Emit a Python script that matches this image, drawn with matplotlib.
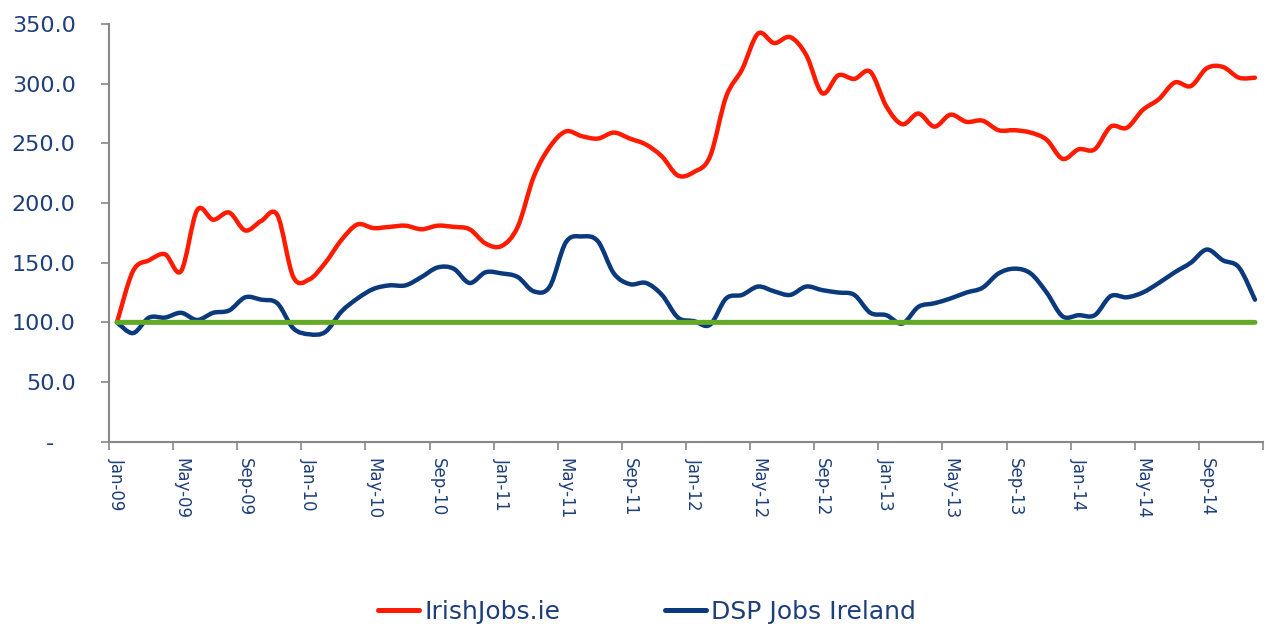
import matplotlib
matplotlib.use("Agg")
import matplotlib.pyplot as plt
from matplotlib.path import Path
from matplotlib.patches import PathPatch
from matplotlib.lines import Line2D
import numpy as np

months = [f"{m}-{y:02d}" for y in range(9, 15) for m in
          ["Jan", "Feb", "Mar", "Apr", "May", "Jun", "Jul", "Aug", "Sep", "Oct", "Nov", "Dec"]]

irishjobs = [100, 143, 152, 157, 143, 194, 186, 192, 177, 185, 190, 138,
             136, 150, 169, 182, 179, 180, 181, 178, 181, 180, 178, 166,
             164, 180, 222, 247, 260, 256, 254, 259, 254, 249, 239, 223,
             226, 239, 289, 312, 342, 334, 339, 324, 292, 307, 304, 310,
             281, 266, 275, 264, 274, 268, 269, 261, 261, 259, 253, 237,
             245, 245, 264, 263, 278, 287, 301, 298, 313, 314, 305, 305]

dsp_jobs = [100, 91, 104, 104, 108, 102, 108, 110, 121, 119, 116, 95,
            90, 92, 109, 120, 128, 131, 131, 138, 146, 145, 133, 142,
            141, 138, 126, 130, 167, 172, 168, 141, 132, 133, 123, 104,
            101, 98, 120, 123, 130, 126, 123, 130, 127, 125, 123, 108,
            106, 99, 113, 116, 120, 125, 129, 141, 145, 141, 125, 105,
            106, 106, 122, 121, 125, 133, 142, 150, 161, 152, 146, 119]

baseline = [100] * 72

series_names = ["IrishJobs.ie", "DSP Jobs Ireland"]
yticks = [0, 50, 100, 150, 200, 250, 300, 350]
ytick_labels = ["-   ", "50.0", "100.0", "150.0", "200.0", "250.0", "300.0", "350.0"]

RED = "#FF1A00"
BLUE = "#0B3A7C"
GREEN = "#62AA24"
TEXT = "#1F3F7A"
GRAY = "#888888"


def smooth_path(xs, ys):
    xs = np.asarray(xs, float)
    ys = np.asarray(ys, float)
    n = len(xs)
    verts = [(xs[0], ys[0])]
    codes = [Path.MOVETO]
    for i in range(n - 1):
        i0 = max(i - 1, 0)
        i3 = min(i + 2, n - 1)
        c1 = (xs[i] + (xs[i + 1] - xs[i0]) / 6.0, ys[i] + (ys[i + 1] - ys[i0]) / 6.0)
        c2 = (xs[i + 1] - (xs[i3] - xs[i]) / 6.0, ys[i + 1] - (ys[i3] - ys[i]) / 6.0)
        verts += [c1, c2, (xs[i + 1], ys[i + 1])]
        codes += [Path.CURVE4] * 3
    return Path(verts, codes)


fig = plt.figure(figsize=(12.68, 6.28), dpi=100)
ax = fig.add_axes([109 / 1268, 1 - 441.7 / 628, (1263 - 109) / 1268, (441.7 - 24) / 628])

x = np.arange(len(months))
for vals, col, lw in [(irishjobs, RED, 3.2), (dsp_jobs, BLUE, 3.2), (baseline, GREEN, 3.6)]:
    patch = PathPatch(smooth_path(x, vals), fill=False, edgecolor=col, lw=lw,
                      capstyle="round", joinstyle="round", transform=ax.transData)
    ax.add_patch(patch)

ax.set_xlim(-0.5, len(months) - 0.5)
ax.set_ylim(0, 350)

ax.set_yticks(yticks)
ax.set_yticklabels(ytick_labels)
ax.tick_params(axis="y", direction="out", length=6, width=1.2, color=GRAY,
               labelsize=16, labelcolor=TEXT, pad=18)

ax.set_xticks(x[::4])
ax.set_xticklabels(months[::4], rotation=-90, ha="center", va="top")
ax.set_xticks(np.arange(-0.5, len(months), 4), minor=True)
ax.tick_params(axis="x", which="major", length=0, labelsize=12, labelcolor=TEXT, pad=12)
ax.tick_params(axis="x", which="minor", direction="out", length=6, width=1.2, color=GRAY)

for s in ["top", "right"]:
    ax.spines[s].set_visible(False)
for s in ["left", "bottom"]:
    ax.spines[s].set_color(GRAY)
    ax.spines[s].set_linewidth(1.5)

handles = [Line2D([], [], color=RED, lw=3.6, solid_capstyle="round"),
           Line2D([], [], color=BLUE, lw=3.6, solid_capstyle="round")]
fig.legend(handles, series_names, loc="center", bbox_to_anchor=(647 / 1268, 1 - 612 / 628),
           ncol=2, frameon=False, fontsize=18, labelcolor=TEXT, handlelength=1.65,
           handletextpad=0.2, columnspacing=4.2)

fig.savefig("out.png", dpi=100)
